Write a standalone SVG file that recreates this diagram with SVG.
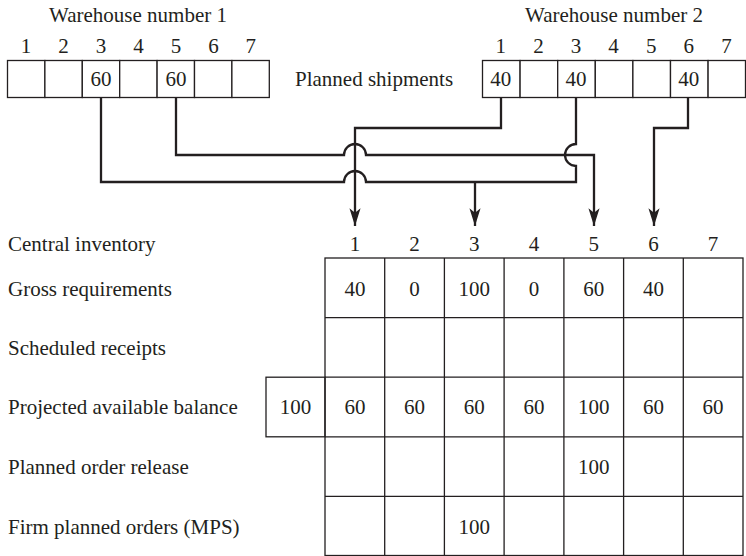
<svg xmlns="http://www.w3.org/2000/svg" width="746" height="556" viewBox="0 0 746 556">
<style>
text{font-family:"Liberation Serif","Times New Roman",serif;font-size:21px;fill:#231f20}
.c{text-anchor:middle}
.cell{fill:#fff;stroke:#231f20;stroke-width:1.3}
.conn{fill:none;stroke:#231f20;stroke-width:2.3;stroke-linejoin:miter}
</style>
<defs>
<marker id="ah" markerUnits="userSpaceOnUse" markerWidth="20" markerHeight="14" viewBox="-17 -6 18 12" refX="0" refY="0" orient="auto">
<path d="M0,0 L-16,-5 L-12,0 L-16,5 Z" fill="#231f20"/>
</marker>
</defs>
<rect width="746" height="556" fill="#fff"/>

<g id="warehouse1">
<text class="c" x="138" y="22">Warehouse number 1</text>
<g class="c">
<text x="26" y="53">1</text><text x="63.6" y="53">2</text><text x="101" y="53">3</text><text x="138.5" y="53">4</text><text x="176" y="53">5</text><text x="213.4" y="53">6</text><text x="250.8" y="53">7</text>
</g>
<rect class="cell" x="7.5" y="60.5" width="37.4" height="37"/>
<rect class="cell" x="44.9" y="60.5" width="37.4" height="37"/>
<rect class="cell" x="82.3" y="60.5" width="37.4" height="37"/>
<rect class="cell" x="119.7" y="60.5" width="37.4" height="37"/>
<rect class="cell" x="157.1" y="60.5" width="37.4" height="37"/>
<rect class="cell" x="194.5" y="60.5" width="37.4" height="37"/>
<rect class="cell" x="231.9" y="60.5" width="37.4" height="37"/>
<text class="c" x="101" y="86">60</text>
<text class="c" x="176" y="86">60</text>
</g>

<g id="planned-shipments-label">
<text x="295" y="86">Planned shipments</text>
</g>

<g id="warehouse2">
<text class="c" x="614" y="22">Warehouse number 2</text>
<g class="c">
<text x="500.8" y="53">1</text><text x="538.4" y="53">2</text><text x="576" y="53">3</text><text x="613.6" y="53">4</text><text x="651.2" y="53">5</text><text x="688.8" y="53">6</text><text x="726.4" y="53">7</text>
</g>
<rect class="cell" x="482.5" y="60.5" width="37.6" height="37"/>
<rect class="cell" x="520.1" y="60.5" width="37.6" height="37"/>
<rect class="cell" x="557.7" y="60.5" width="37.6" height="37"/>
<rect class="cell" x="595.3" y="60.5" width="37.6" height="37"/>
<rect class="cell" x="632.9" y="60.5" width="37.6" height="37"/>
<rect class="cell" x="670.5" y="60.5" width="37.6" height="37"/>
<rect class="cell" x="708.1" y="60.5" width="37.4" height="37"/>
<text class="c" x="500.8" y="86">40</text>
<text class="c" x="576" y="86">40</text>
<text class="c" x="688.8" y="86">40</text>
</g>

<g id="connectors">
<path class="conn" d="M101,97.5 V182 H344 A11,11 0 0 1 366,182 H576 V166 A11,11 0 0 1 576,144 V97.5"/>
<path class="conn" d="M475,182 V226" marker-end="url(#ah)"/>
<path class="conn" d="M176,97.5 V155 H344 A11,11 0 0 1 366,155 H594 V226" marker-end="url(#ah)"/>
<path class="conn" d="M501,97.5 V128 H355 V226" marker-end="url(#ah)"/>
<path class="conn" d="M688,97.5 V128 H654 V226" marker-end="url(#ah)"/>
</g>

<g id="row-labels">
<text x="8" y="251">Central inventory</text>
<text x="8" y="296">Gross requirements</text>
<text x="8" y="355">Scheduled receipts</text>
<text x="8" y="414">Projected available balance</text>
<text x="8" y="474">Planned order release</text>
<text x="8" y="534">Firm planned orders (MPS)</text>
</g>

<g id="central-table">
<g class="c">
<text x="355" y="251">1</text><text x="414.6" y="251">2</text><text x="474.3" y="251">3</text><text x="534" y="251">4</text><text x="593.7" y="251">5</text><text x="653.4" y="251">6</text><text x="713.1" y="251">7</text>
</g>
<rect class="cell" x="266" y="377.2" width="59" height="59.6"/>
<g fill="none" stroke="#231f20" stroke-width="1.3">
<rect x="325" y="258" width="418" height="297.5"/>
<path d="M384.7,258 V555.5 M444.4,258 V555.5 M504.1,258 V555.5 M563.9,258 V555.5 M623.6,258 V555.5 M683.3,258 V555.5 M325,317.6 H743 M325,377.2 H743 M325,436.8 H743 M325,496.4 H743"/>
</g>
<g class="c">
<text x="355" y="296">40</text><text x="414.6" y="296">0</text><text x="474.3" y="296">100</text><text x="534" y="296">0</text><text x="593.7" y="296">60</text><text x="653.4" y="296">40</text>
<text x="295.5" y="414">100</text><text x="355" y="414">60</text><text x="414.6" y="414">60</text><text x="474.3" y="414">60</text><text x="534" y="414">60</text><text x="593.7" y="414">100</text><text x="653.4" y="414">60</text><text x="713.1" y="414">60</text>
<text x="593.7" y="474">100</text>
<text x="474.3" y="534">100</text>
</g>
</g>
</svg>
